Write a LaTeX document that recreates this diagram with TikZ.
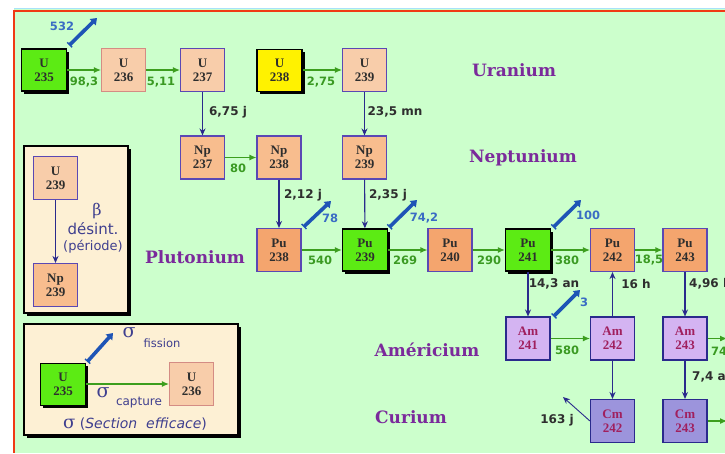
\documentclass[tikz,border=0pt]{standalone}
\usepackage{fontspec}
\setmainfont{DejaVu Serif}
\setsansfont{DejaVu Sans}
\newfontfamily\isofnt{Liberation Serif}
\usetikzlibrary{arrows.meta,shadows}
\definecolor{bggreen}{HTML}{CCFFCC}
\definecolor{frame}{HTML}{F03A14}
\definecolor{keygreen}{HTML}{5CEB14}
\definecolor{upeach}{HTML}{F8CDAA}
\definecolor{nppeach}{HTML}{F8BD8E}
\definecolor{puorange}{HTML}{F4A56E}
\definecolor{amlav}{HTML}{D4B4F2}
\definecolor{cmviolet}{HTML}{9C94DC}
\definecolor{isoborder}{HTML}{5A48B4}
\definecolor{navy}{HTML}{2A2A8C}
\definecolor{salmon}{HTML}{D48C84}
\definecolor{garr}{HTML}{3C9E1E}
\definecolor{gtxt}{HTML}{3A9A22}
\definecolor{fblue}{HTML}{1E54B6}
\definecolor{btxt}{HTML}{3A6CC4}
\definecolor{elem}{HTML}{7B2A9B}
\definecolor{amtxt}{HTML}{A0205E}
\definecolor{cream}{HTML}{FDF0D4}
\definecolor{legtxt}{HTML}{3F3F8F}
\definecolor{isotxt}{HTML}{2E2E2E}
\begin{document}
\begin{tikzpicture}[x=1pt,y=-1pt,
  iso/.style={draw=isoborder, line width=1.1pt, minimum width=44pt, minimum height=43pt,
    inner sep=0pt, align=center, text=isotxt,
    font=\isofnt\fontsize{13}{14}\selectfont\bfseries},
  uiso/.style={iso, fill=upeach},
  npiso/.style={iso, fill=nppeach},
  puiso/.style={iso, fill=puorange},
  amiso/.style={iso, fill=amlav, draw=navy, text=amtxt},
  cmiso/.style={iso, fill=cmviolet, draw=navy, text=amtxt},
  keyiso/.style={iso, fill=keygreen, draw=black, line width=1.4pt, minimum width=45pt, minimum height=42pt,
    drop shadow={shadow xshift=2.5pt, shadow yshift=-2.5pt, fill=black, opacity=1}},
  garrow/.style={draw=garr, line width=1.1pt, -{Latex[length=7pt,width=6pt]}},
  varrow/.style={draw=navy, line width=1.1pt, -{Stealth[length=7pt,width=6pt]}},
  farrow/.style={draw=fblue, line width=3.6pt, {Bar[width=7pt,line width=1.4pt]}-{Triangle[length=6pt,width=8.5pt]}},
  glab/.style={text=gtxt, inner sep=0pt, font=\sffamily\bfseries\fontsize{11.5}{13}\selectfont},
  blab/.style={text=btxt, inner sep=0pt, font=\sffamily\bfseries\fontsize{11.5}{13}\selectfont},
  hlab/.style={text=isotxt, inner sep=0pt, font=\sffamily\bfseries\fontsize{12}{14}\selectfont},
  elemlab/.style={text=elem, inner sep=0pt, font=\fontsize{17}{19}\selectfont\bfseries},
  legbox/.style={fill=cream, draw=black, line width=1.2pt,
    drop shadow={shadow xshift=3pt, shadow yshift=-3pt, fill=black, opacity=1}},
  legtext/.style={text=legtxt, inner sep=0pt, font=\sffamily}
]
\useasboundingbox (0,0) rectangle (725,453);
\clip (0,0) rectangle (725,453);
% background and frame
\fill[white] (0,0) rectangle (725,453);
\fill[bggreen] (14,9) rectangle (725,453);
\draw[cyan!35, line width=1pt] (14,8.5) -- (725,8.5);
\draw[frame, line width=2.6pt] (13.5,11) -- (725,11);
\draw[frame, line width=2.6pt] (14,9.7) -- (14,453);

% element names
\node[elemlab] (nU) at (514,70) {Uranium};
\node[elemlab] (nNp) at (523,158) {Neptunium};
\node[elemlab] (nPu) at (195,257) {Plutonium};
\node[elemlab] (nAm) at (427,350) {Américium};
\node[elemlab] (nCm) at (411,417) {Curium};

% isotopes
\node[keyiso] (u235) at (44,70) {U\\235};
\node[uiso, draw=salmon] (u236) at (123.5,70) {U\\236};
\node[uiso] (u237) at (202.5,70) {U\\237};
\node[keyiso, fill=yellow] (u238) at (279.5,70.5) {U\\238};
\node[uiso] (u239) at (364.5,70) {U\\239};
\node[npiso] (np237) at (202.5,157.5) {Np\\237};
\node[npiso] (np238) at (279,157.5) {Np\\238};
\node[npiso] (np239) at (364.5,157.5) {Np\\239};
\node[puiso] (pu238) at (279,250) {Pu\\238};
\node[keyiso] (pu239) at (365,250) {Pu\\239};
\node[puiso] (pu240) at (450,250) {Pu\\240};
\node[keyiso] (pu241) at (528,250) {Pu\\241};
\node[puiso] (pu242) at (612.5,250) {Pu\\242};
\node[puiso] (pu243) at (685,250) {Pu\\243};
\node[amiso] (am241) at (528,338.5) {Am\\241};
\node[amiso] (am242) at (612.5,338.5) {Am\\242};
\node[amiso] (am243) at (685,338.5) {Am\\243};
\node[cmiso] (cm242) at (612.5,421) {Cm\\242};
\node[cmiso] (cm243) at (685,421) {Cm\\243};

% capture arrows (green)
\draw[garrow] (u235) -- (u236);
\draw[garrow] (u236) -- (u237);
\draw[garrow] (u238.east |- u239) -- (u239);
\draw[garrow] (np237) -- (np238);
\draw[garrow] (pu238) -- (pu239);
\draw[garrow] (pu239) -- (pu240);
\draw[garrow] (pu240) -- (pu241);
\draw[garrow] (pu241) -- (pu242);
\draw[garrow] (pu242) -- (pu243);
\draw[garrow] (am241) -- (am242);
\coordinate (am243out) at (727,338.5);
\coordinate (cm243out) at (727,421);
\draw[garrow] (am243) -- (am243out);
\draw[garrow] (cm243) -- (cm243out);

\node[glab] (l983) at (84,82) {98,3};
\node[glab] (l511) at (161,82) {5,11};
\node[glab] (l275) at (321,82) {2,75};
\node[glab] (l80) at (238,168) {80};
\node[glab] (l540) at (320,260) {540};
\node[glab] (l269) at (405,260) {269};
\node[glab] (l290) at (489,260) {290};
\node[glab] (l380) at (567,260) {380};
\node[glab] (l185) at (649,260) {18,5};
\node[glab] (l580) at (567,350) {580};
\node[glab, anchor=west] (l74) at (711,351) {74};

% beta decays (navy)
\draw[varrow] (u237) -- (np237);
\draw[varrow] (u239) -- (np239);
\draw[varrow] (np238) -- (pu238);
\draw[varrow] (np239) -- (pu239);
\draw[varrow] (pu241) -- (am241);
\draw[varrow] (am242) -- (pu242);
\draw[varrow] (pu243) -- (am243);
\draw[varrow] (am242) -- (cm242);
\draw[varrow] (am243) -- (cm243);
\coordinate (a163) at (563,397);
\draw[varrow, line width=0.9pt] (cm242.west) -- (a163);

\node[hlab] (h675) at (228,112) {6,75 j};
\node[hlab] (h235) at (395,112) {23,5 mn};
\node[hlab] (h212) at (303,195) {2,12 j};
\node[hlab] (h235b) at (388,195) {2,35 j};
\node[hlab] (h143) at (554,284) {14,3 an};
\node[hlab] (h16) at (636,284) {16 h};
\node[hlab, anchor=west] (h496) at (689,284) {4,96 h};
\node[hlab, anchor=west] (h74) at (692,377) {7,4 an};
\node[hlab] (h163) at (557,420) {163 j};

% fission arrows (blue)
\coordinate (f532) at (97,18);
\coordinate (f78) at (331,201);
\coordinate (f742) at (417,200);
\coordinate (f100) at (581,200);
\coordinate (f3) at (580,290);
\draw[farrow] ([shift={(2,-3)}]u235.north east) -- (f532);
\draw[farrow] ([shift={(2,-1)}]pu238.north east) -- (f78);
\draw[farrow] ([shift={(1,-1)}]pu239.north east) -- (f742);
\draw[farrow] ([shift={(2,-1)}]pu241.north east) -- (f100);
\draw[farrow] ([shift={(3,0)}]am241.north east) -- (f3);
\node[blab] (b532) at (62,26) {532};
\node[blab] (b78) at (330,218) {78};
\node[blab] (b742) at (424,218) {74,2};
\node[blab] (b100) at (588,215) {100};
\node[blab] (b3) at (584,302) {3};

% legend 1
\fill[legbox] (24,146) rectangle (128,313);
\draw[black, line width=1.2pt] (24,146) rectangle (128,313);
\node[uiso] (lu239) at (55.5,178) {U\\239};
\node[npiso] (lnp239) at (55.5,285) {Np\\239};
\draw[varrow] (lu239) -- (lnp239);
\node[legtext, font=\fontsize{16}{17}\selectfont] (lbeta) at (97,211) {β};
\node[legtext, font=\sffamily\fontsize{15}{17}\selectfont] (ldes) at (93,229) {désint.};
\node[legtext, font=\sffamily\fontsize{13}{15}\selectfont] (lper) at (93,247) {(période)};

% legend 2
\fill[legbox] (24,324) rectangle (238,435);
\draw[black, line width=1.2pt] (24,324) rectangle (238,435);
\node[keyiso] (lu235) at (63,384.5) {U\\235};
\node[uiso, draw=salmon] (lu236) at (191.5,384) {U\\236};
\draw[garrow] (lu235.east |- lu236) -- (lu236);
\coordinate (lf) at (113,333);
\draw[farrow] ([shift={(1,-1)}]lu235.north east) -- (lf);
\node[legtext, font=\fontsize{19}{20}\selectfont] (ls1) at (129,333) {σ};
\node[legtext, font=\sffamily\fontsize{11.5}{13}\selectfont] (lfis) at (162,343) {fission};
\node[legtext, font=\fontsize{19}{20}\selectfont] (ls2) at (103,393) {σ};
\node[legtext, font=\sffamily\fontsize{12}{13}\selectfont] (lcap) at (139,403) {capture};
\node[legtext, font=\sffamily\fontsize{14}{16}\selectfont] (lsec) at (135,424)
  {{\rmfamily\fontsize{18}{18}\selectfont σ} (\textit{Section\ \ efficace})};
\end{tikzpicture}
\end{document}
